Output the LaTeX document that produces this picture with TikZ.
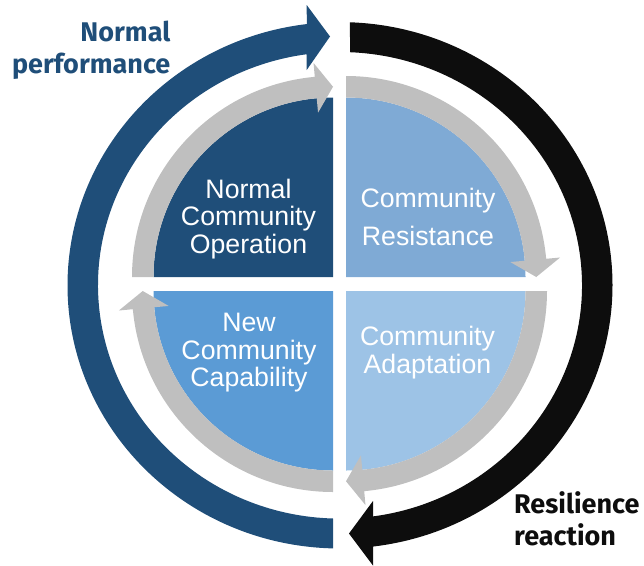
\documentclass[tikz,border=0pt]{standalone}
\usepackage{fontspec}
\setmainfont{Liberation Sans}
\newfontfamily\labelfont{Fira Sans}
\definecolor{navy}{HTML}{1F4E79}
\definecolor{quadresist}{HTML}{7FAAD5}
\definecolor{quadadapt}{HTML}{9DC3E6}
\definecolor{quadnew}{HTML}{5B9BD5}
\definecolor{ringgray}{HTML}{BFBFBF}
\definecolor{inkblack}{HTML}{0D0D0D}

% one grey quarter-ring arrow around a quadrant: corner x, corner y, start angle
\newcommand\cyclearrow[3]{%
  \begin{scope}[shift={(#1,#2)}]
    \pgfmathsetmacro\tipang{#3+90}
    \pgfmathsetmacro\baseang{#3+90-5.2}
    \fill[ringarrow] (#3:201) arc[start angle=#3, end angle=\baseang, radius=201]
      -- (\baseang:215) -- (\tipang:190.25) -- (\baseang:165)
      -- (\baseang:179.5) arc[start angle=\baseang, end angle=#3, radius=179.5] -- cycle;
  \end{scope}}

\begin{document}
\begin{tikzpicture}[x=1pt, y=-1pt,
  ringarrow/.style={fill=ringgray},
  qtext/.style={text=white, inner sep=0pt, anchor=base,
    font=\fontsize{26.7}{#1}\selectfont},
  olabel/.style={inner sep=0pt, font=\labelfont\bfseries\fontsize{27}{31.7}\selectfont}]
\useasboundingbox (0,0) rectangle (644,565);

% outer cycle: normal performance (left) and resilience reaction (right)
\begin{scope}[shift={(340,285.3)}]
  \fill[navy] (91.47:272.5 and 263.2)
    arc[start angle=91.47, end angle=263.0, x radius=272.5, y radius=263.2]
    -- (-33.3,-280.3) -- (-10,-248.8) -- (-33.3,-215.3)
    -- (262.1:242 and 233.3)
    arc[start angle=262.1, end angle=91.66, x radius=242, y radius=233.3] -- cycle;
  \fill[inkblack] (272.1:272.5 and 263.2)
    arc[start angle=272.1, end angle=443.04, x radius=272.5, y radius=263.2]
    -- (33,215.7) -- (9,248.2) -- (33,280.2)
    -- (442.16:242 and 233.3)
    arc[start angle=442.16, end angle=272.37, x radius=242, y radius=233.3] -- cycle;
\end{scope}

% four quadrants
\fill[navy] (333,277) -- ++(180:179.5) arc[start angle=180, end angle=270, radius=179.5] -- cycle;
\fill[quadresist] (346,277) -- ++(270:179.5) arc[start angle=270, end angle=360, radius=179.5] -- cycle;
\fill[quadadapt] (346,291) -- ++(0:179.5) arc[start angle=0, end angle=90, radius=179.5] -- cycle;
\fill[quadnew] (333,291) -- ++(90:179.5) arc[start angle=90, end angle=180, radius=179.5] -- cycle;

% inner grey arrows, clockwise
\cyclearrow{333}{277}{180}
\cyclearrow{346}{277}{270}
\cyclearrow{346}{291}{0}
\cyclearrow{333}{291}{90}

% quadrant labels
\node[qtext=27.5] (operation) at (248.5,198.3)
  {\begin{tabular}[t]{@{}c@{}}Normal\\Community\\Operation\end{tabular}};
\node[qtext=37.7] (resistance) at (428,207.3)
  {\begin{tabular}[t]{@{}c@{}}Community\\Resistance\end{tabular}};
\node[qtext=28.3] (adaptation) at (427.5,345)
  {\begin{tabular}[t]{@{}c@{}}Community\\Adaptation\end{tabular}};
\node[qtext=26.7] (capability) at (249,331.7)
  {\begin{tabular}[t]{@{}c@{}}New\\Community\\Capability\end{tabular}};

% outer labels
\node[olabel, text=navy, anchor=base east] (normal) at (170.5,41.7)
  {\begin{tabular}[t]{@{}r@{}}Normal\\performance\end{tabular}};
\node[olabel, text=inkblack, anchor=base west] (reaction) at (514,513.3)
  {\begin{tabular}[t]{@{}l@{}}Resilience\\reaction\end{tabular}};
\end{tikzpicture}
\end{document}
